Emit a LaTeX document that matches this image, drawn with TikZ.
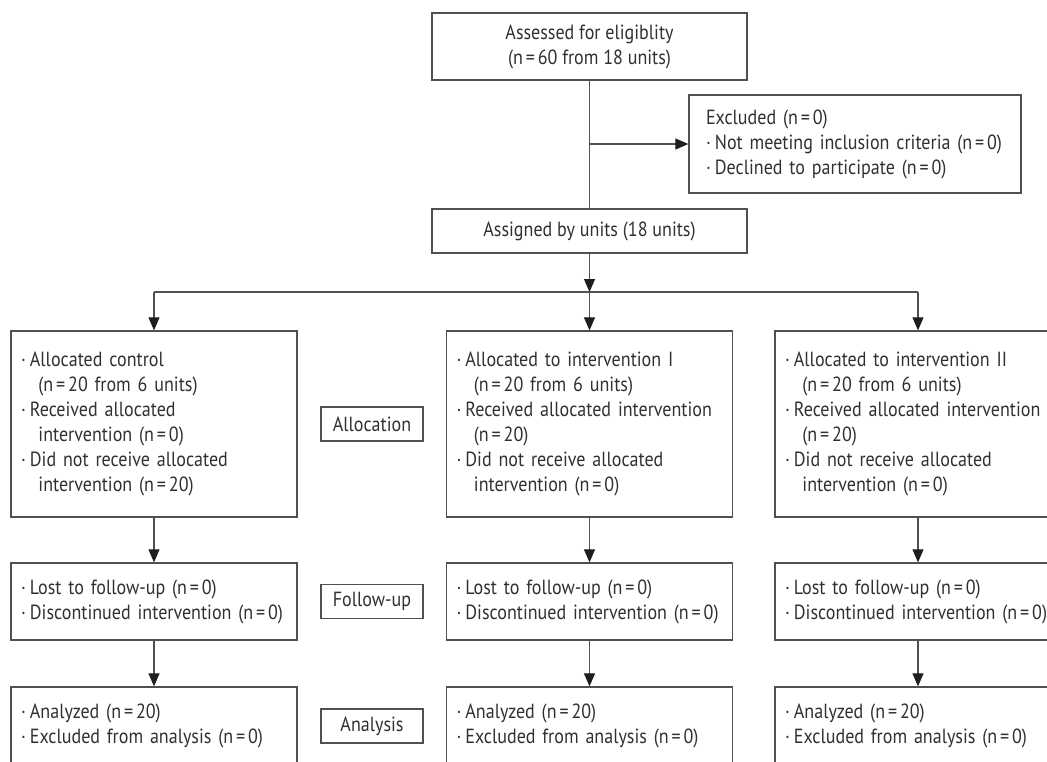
\documentclass[tikz,border=0pt]{standalone}
\usepackage{fontspec}
\setmainfont{PT Sans}[FakeStretch=0.88]
\usetikzlibrary{arrows.meta}
\definecolor{ln}{HTML}{505050}
\definecolor{tx}{HTML}{303030}
\definecolor{tip}{HTML}{1E1E1E}
\newcommand\bu{·\hspace{0.2em}}
\newcommand\cont{\hspace*{0.85em}}
\newcommand\eq{\hspace{0.14em}=\hspace{0.14em}}
\begin{document}
\begin{tikzpicture}[x=1pt,y=-1pt,
  box/.style={draw=ln, line width=1.3pt, text=tx, font=\fontsize{20.5}{25}\selectfont, inner ysep=0pt},
  cbox/.style={box, align=center},
  colbox/.style={box, minimum width=286pt, text width=266pt, inner xsep=10pt, align=left},
  tagbox/.style={box, minimum width=102pt, minimum height=34pt, inner xsep=0pt, align=center},
  conn/.style={draw=ln, line width=1.1pt},
  arr/.style={conn, -{Triangle[length=13pt,width=11pt,color=tip]}}
]
\useasboundingbox (0,0) rectangle (1047,761);

\node[cbox, minimum width=315pt, minimum height=67pt] (top) at (589.5,46.5)
  {Assessed for eligiblity\\(n\eq 60 from 18 units)};
\node[box, minimum width=332pt, minimum height=98pt, text width=312pt, inner xsep=10pt, align=left] (exc) at (855,144)
  {\hspace*{7pt}Excluded (n\eq 0)\\\hspace*{7pt}\bu Not meeting inclusion criteria (n\eq 0)\\\hspace*{7pt}\bu Declined to participate (n\eq 0)};
\node[cbox, minimum width=315pt, minimum height=44pt] (asg) at (589.5,231)
  {Assigned by units (18 units)};

\node[colbox, minimum height=186pt] (a1) at (154,424)
  {\bu Allocated control\\\cont(n\eq 20 from 6 units)\\\bu Received allocated\\\cont intervention (n\eq 0)\\\bu Did not receive allocated\\\cont intervention (n\eq 20)};
\node[colbox, minimum height=186pt] (a2) at (589.5,424)
  {\bu Allocated to intervention I\\\cont(n\eq 20 from 6 units)\\\bu Received allocated intervention\\\cont(n\eq 20)\\\bu Did not receive allocated\\\cont intervention (n\eq 0)};
\node[colbox, minimum height=186pt] (a3) at (918,424)
  {\bu Allocated to intervention II\\\cont(n\eq 20 from 6 units)\\\bu Received allocated intervention\\\cont(n\eq 20)\\\bu Did not receive allocated\\\cont intervention (n\eq 0)};

\node[colbox, minimum height=77pt] (f1) at (154,601.5)
  {\bu Lost to follow-up (n\eq 0)\\\bu Discontinued intervention (n\eq 0)};
\node[colbox, minimum height=77pt] (f2) at (589.5,601.5)
  {\bu Lost to follow-up (n\eq 0)\\\bu Discontinued intervention (n\eq 0)};
\node[colbox, minimum height=77pt] (f3) at (918,601.5)
  {\bu Lost to follow-up (n\eq 0)\\\bu Discontinued intervention (n\eq 0)};

\node[colbox, minimum height=77pt] (n1) at (154,725.5)
  {\bu Analyzed (n\eq 20)\\\bu Excluded from analysis (n\eq 0)};
\node[colbox, minimum height=77pt] (n2) at (589.5,725.5)
  {\bu Analyzed (n\eq 20)\\\bu Excluded from analysis (n\eq 0)};
\node[colbox, minimum height=77pt] (n3) at (918,725.5)
  {\bu Analyzed (n\eq 20)\\\bu Excluded from analysis (n\eq 0)};

\node[tagbox] (tAlloc) at (372,424) {Allocation};
\node[tagbox] (tFollow) at (372,601.5) {Follow-up};
\node[tagbox] (tAnal) at (372,726) {Analysis};

% connectors
\draw[conn] (top.south) -- (asg.north);
\draw[arr] (exc.west -| top.south) -- (exc.west);
\coordinate (j) at (589.5,292);
\draw[arr] (asg.south) -- (j);
\draw[conn] (a1.north |- j) -- (a3.north |- j);
\draw[arr] (a1.north |- j) -- (a1.north);
\draw[arr] (j) -- (a2.north);
\draw[arr] (a3.north |- j) -- (a3.north);
\draw[arr] (a1.south) -- (f1.north);
\draw[arr] (a2.south) -- (f2.north);
\draw[arr] (a3.south) -- (f3.north);
\draw[arr] (f1.south) -- (n1.north);
\draw[arr] (f2.south) -- (n2.north);
\draw[arr] (f3.south) -- (n3.north);
\end{tikzpicture}
\end{document}
